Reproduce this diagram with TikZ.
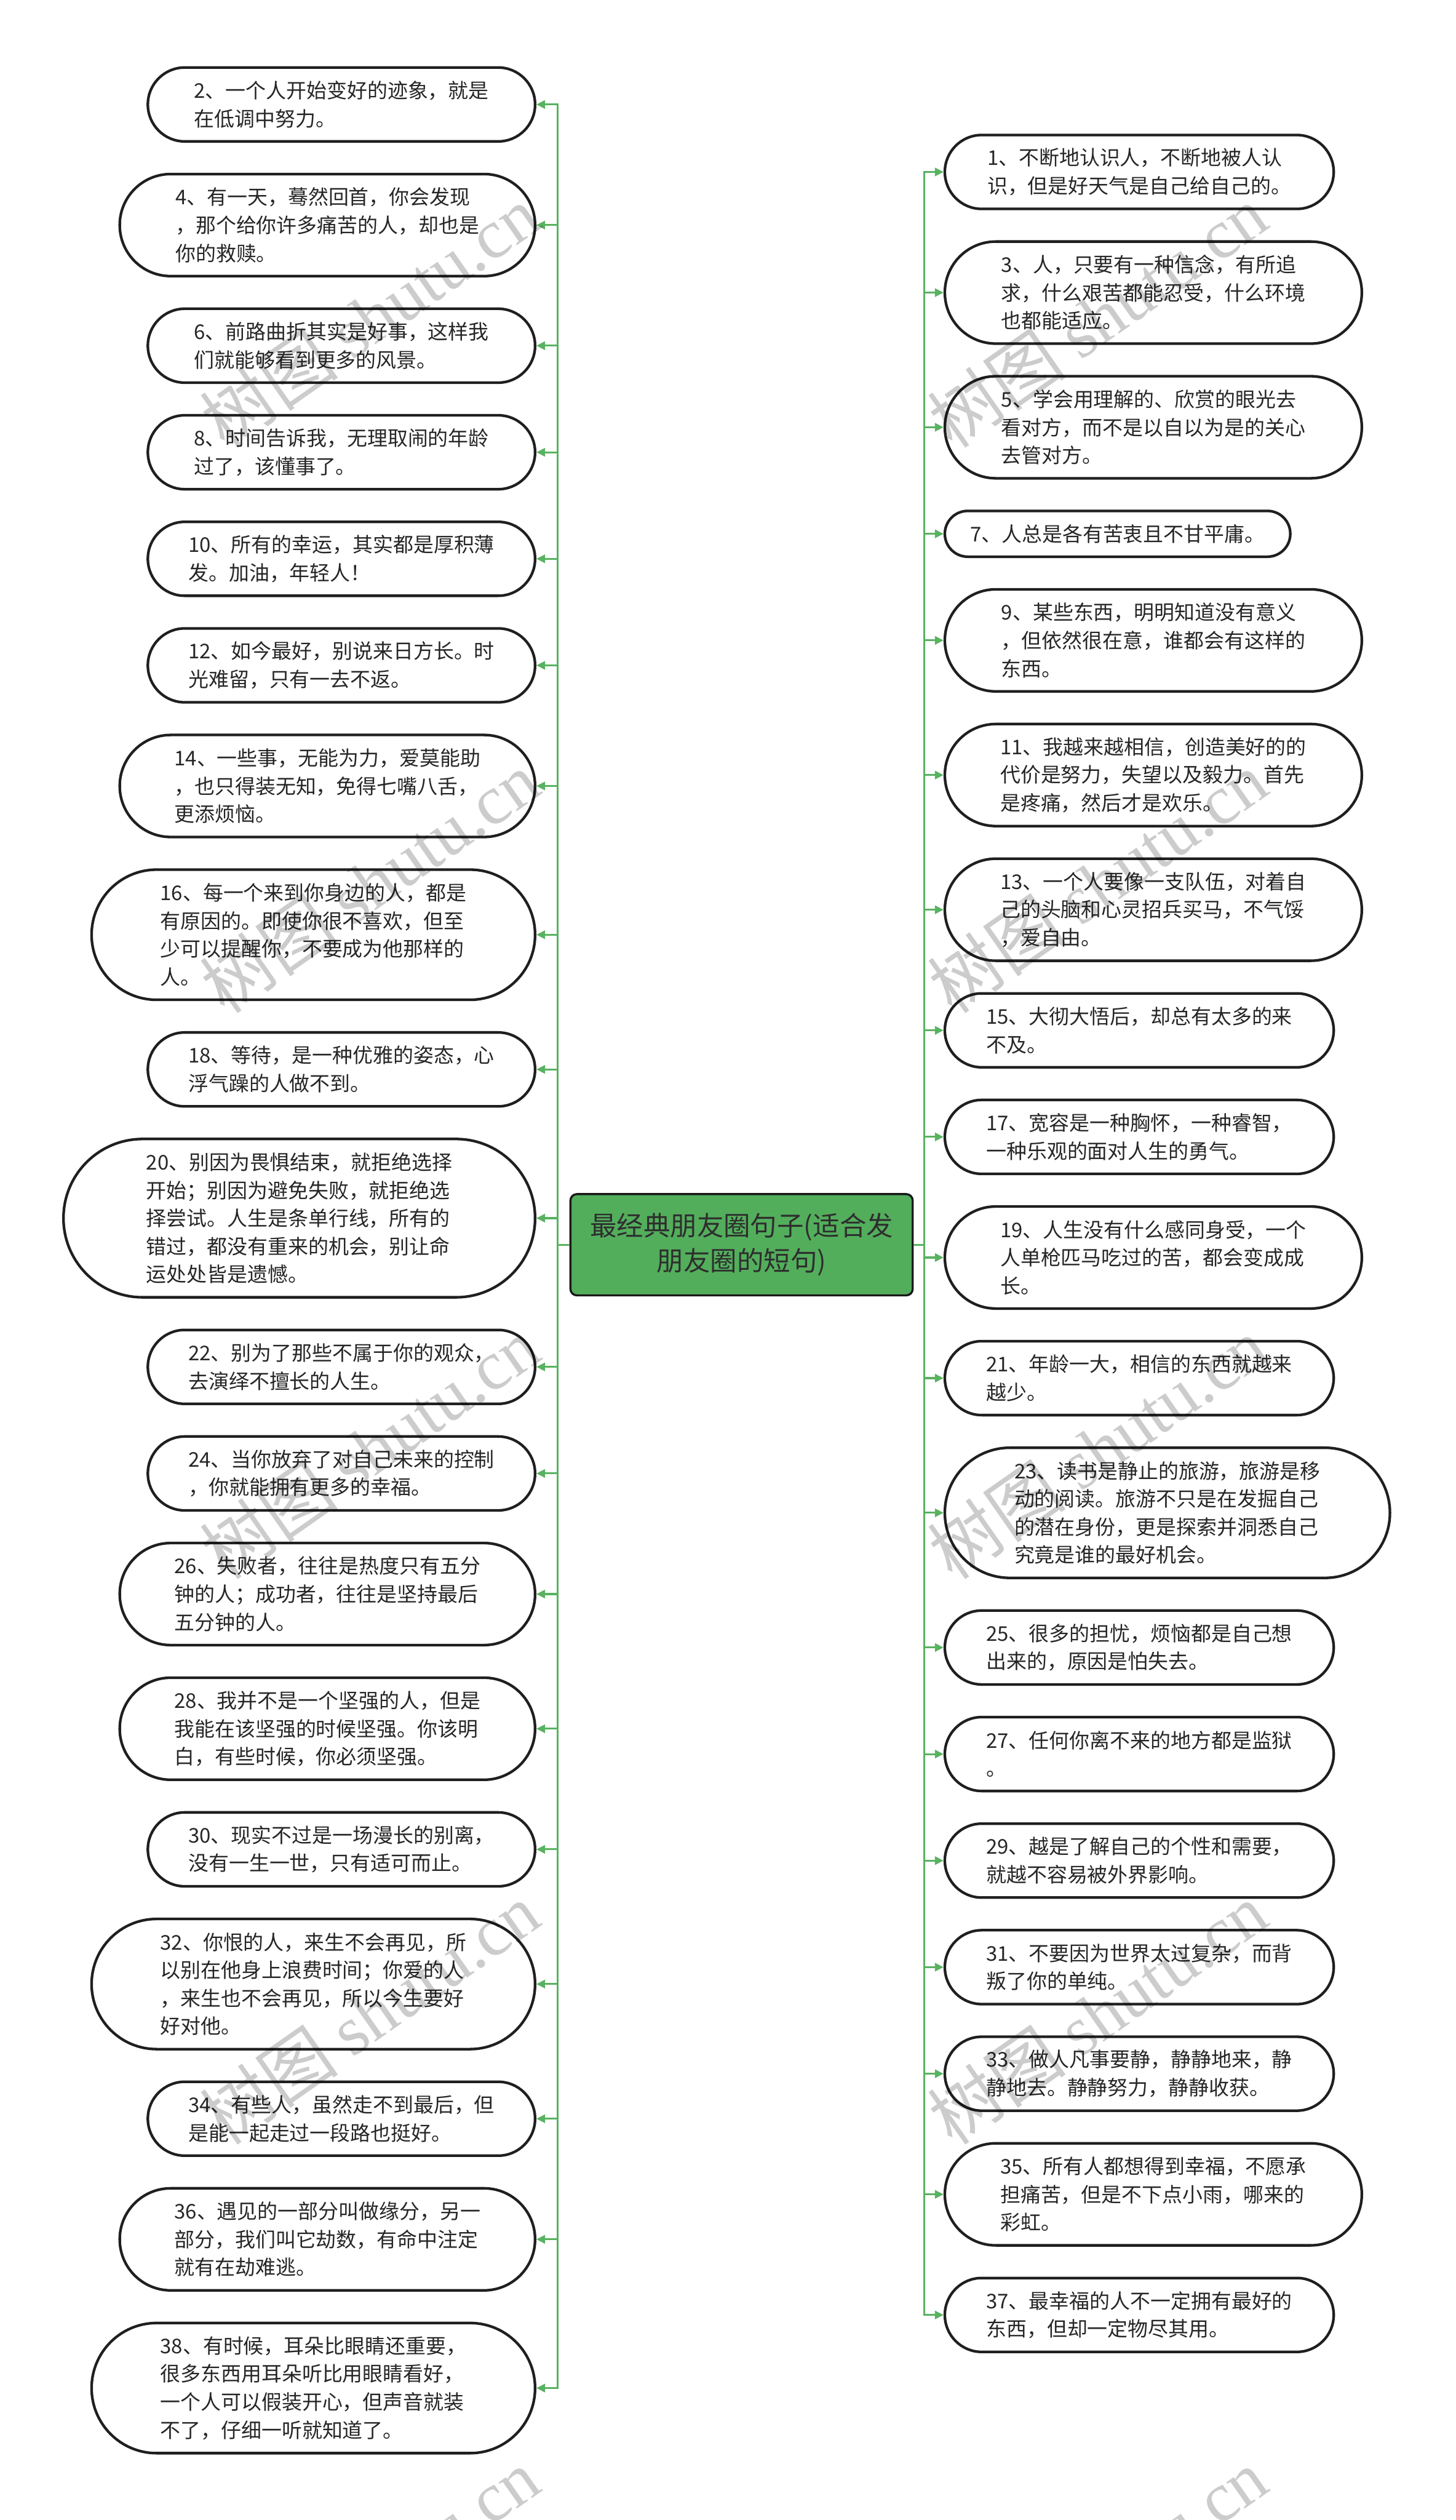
\documentclass[tikz,border=0pt]{standalone}
\usepackage{fontspec}
\setmainfont{Noto Sans CJK SC}
\newfontfamily\wmserif{Liberation Serif}
\usetikzlibrary{arrows.meta}
\definecolor{lineg}{RGB}{88,178,96}
\definecolor{rootg}{RGB}{83,174,92}
\definecolor{txt}{RGB}{38,38,38}
\newcommand\leafleft[5]{%
  \pgfmathsetlengthmacro\leafW{#4*0.03cm}%
  \pgfmathsetlengthmacro\leafH{#3*0.03cm}%
  \pgfmathsetlengthmacro\leafR{#3*0.015cm-0.01pt}%
  \pgfmathsetmacro\leafX{333-#4/2}%
  \node[leaf, minimum width=\leafW, minimum height=\leafH, rounded corners=\leafR] (#1) at (\leafX,#2) {#5};}
\newcommand\leafright[5]{%
  \pgfmathsetlengthmacro\leafW{#4*0.03cm}%
  \pgfmathsetlengthmacro\leafH{#3*0.03cm}%
  \pgfmathsetlengthmacro\leafR{#3*0.015cm-0.01pt}%
  \pgfmathsetmacro\leafX{588+#4/2}%
  \node[leaf, minimum width=\leafW, minimum height=\leafH, rounded corners=\leafR] (#1) at (\leafX,#2) {#5};}
\begin{document}
\begin{tikzpicture}[x=0.03cm,y=-0.03cm,
  leaf/.style={draw=black!88, line width=1.4pt, fill=white, align=left, text=txt, inner sep=0pt,
    font=\fontsize{10.76pt}{14.9pt}\selectfont},
  root/.style={draw=black!90, line width=1.1pt, fill=rootg, align=center, text=black!82, inner sep=0pt,
    rounded corners=0.12cm, font=\fontsize{14.2pt}{18.7pt}\selectfont},
  conn/.style={draw=lineg, line width=1pt, -{Triangle[length=4.6pt,width=4.4pt]}},
  wm/.style={rotate=35, text=black, opacity=0.2, font=\fontsize{37pt}{40pt}\selectfont}]
\useasboundingbox (0,0) rectangle (906,1568);
\fill[white] (0,0) rectangle (906,1568);

% center node
\node[root, minimum width=213*0.03cm, minimum height=63*0.03cm] (c) at (461.5,774.5) {最经典朋友圈句子(适合发\\朋友圈的短句)};
\coordinate (tl) at (347,774.5);
\coordinate (tr) at (575,774.5);

% left leaves
\leafleft{l2}{65}{46}{241}{2、一个人开始变好的迹象，就是\\在低调中努力。}
\leafleft{l4}{140.05}{63.5}{258.5}{4、有一天，蓦然回首，你会发现\\，那个给你许多痛苦的人，却也是\\你的救赎。}
\leafleft{l6}{215.1}{46}{241}{6、前路曲折其实是好事，这样我\\们就能够看到更多的风景。}
\leafleft{l8}{281.4}{46}{241}{8、时间告诉我，无理取闹的年龄\\过了，该懂事了。}
\leafleft{l10}{347.7}{46}{241}{10、所有的幸运，其实都是厚积薄\\发。加油，年轻人！}
\leafleft{l12}{414.0}{46}{241}{12、如今最好，别说来日方长。时\\光难留，只有一去不返。}
\leafleft{l14}{489.05}{63.5}{258.5}{14、一些事，无能为力，爱莫能助\\，也只得装无知，免得七嘴八舌，\\更添烦恼。}
\leafleft{l16}{581.6}{81}{276}{16、每一个来到你身边的人，都是\\有原因的。即使你很不喜欢，但至\\少可以提醒你，不要成为他那样的\\人。}
\leafleft{l18}{665.4}{46}{241}{18、等待，是一种优雅的姿态，心\\浮气躁的人做不到。}
\leafleft{l20}{757.95}{98.5}{293.5}{20、别因为畏惧结束，就拒绝选择\\开始；别因为避免失败，就拒绝选\\择尝试。人生是条单行线，所有的\\错过，都没有重来的机会，别让命\\运处处皆是遗憾。}
\leafleft{l22}{850.5}{46}{241}{22、别为了那些不属于你的观众，\\去演绎不擅长的人生。}
\leafleft{l24}{916.8}{46}{241}{24、当你放弃了对自己未来的控制\\，你就能拥有更多的幸福。}
\leafleft{l26}{991.85}{63.5}{258.5}{26、失败者，往往是热度只有五分\\钟的人；成功者，往往是坚持最后\\五分钟的人。}
\leafleft{l28}{1075.65}{63.5}{258.5}{28、我并不是一个坚强的人，但是\\我能在该坚强的时候坚强。你该明\\白，有些时候，你必须坚强。}
\leafleft{l30}{1150.7}{46}{241}{30、现实不过是一场漫长的别离，\\没有一生一世，只有适可而止。}
\leafleft{l32}{1234.5}{81}{276}{32、你恨的人，来生不会再见，所\\以别在他身上浪费时间；你爱的人\\，来生也不会再见，所以今生要好\\好对他。}
\leafleft{l34}{1318.3}{46}{241}{34、有些人，虽然走不到最后，但\\是能一起走过一段路也挺好。}
\leafleft{l36}{1393.35}{63.5}{258.5}{36、遇见的一部分叫做缘分，另一\\部分，我们叫它劫数，有命中注定\\就有在劫难逃。}
\leafleft{l38}{1485.9}{81}{276}{38、有时候，耳朵比眼睛还重要，\\很多东西用耳朵听比用眼睛看好，\\一个人可以假装开心，但声音就装\\不了，仔细一听就知道了。}

% right leaves
\leafright{r1}{107}{46}{242}{1、不断地认识人，不断地被人认\\识，但是好天气是自己给自己的。}
\leafright{r3}{182.05}{63.5}{259.5}{3、人，只要有一种信念，有所追\\求，什么艰苦都能忍受，什么环境\\也都能适应。}
\leafright{r5}{265.85}{63.5}{259.5}{5、学会用理解的、欣赏的眼光去\\看对方，而不是以自以为是的关心\\去管对方。}
\leafright{r7}{332.15}{28.5}{215}{7、人总是各有苦衷且不甘平庸。}
\leafright{r9}{398.45}{63.5}{259.5}{9、某些东西，明明知道没有意义\\，但依然很在意，谁都会有这样的\\东西。}
\leafright{r11}{482.25}{63.5}{259.5}{11、我越来越相信，创造美好的的\\代价是努力，失望以及毅力。首先\\是疼痛，然后才是欢乐。}
\leafright{r13}{566.05}{63.5}{259.5}{13、一个人要像一支队伍，对着自\\己的头脑和心灵招兵买马，不气馁\\，爱自由。}
\leafright{r15}{641.1}{46}{242}{15、大彻大悟后，却总有太多的来\\不及。}
\leafright{r17}{707.4}{46}{242}{17、宽容是一种胸怀，一种睿智，\\一种乐观的面对人生的勇气。}
\leafright{r19}{782.45}{63.5}{259.5}{19、人生没有什么感同身受，一个\\人单枪匹马吃过的苦，都会变成成\\长。}
\leafright{r21}{857.5}{46}{242}{21、年龄一大，相信的东西就越来\\越少。}
\leafright{r23}{941.3}{81}{277}{23、读书是静止的旅游，旅游是移\\动的阅读。旅游不只是在发掘自己\\的潜在身份，更是探索并洞悉自己\\究竟是谁的最好机会。}
\leafright{r25}{1025.1}{46}{242}{25、很多的担忧，烦恼都是自己想\\出来的，原因是怕失去。}
\leafright{r27}{1091.4}{46}{242}{27、任何你离不来的地方都是监狱\\。}
\leafright{r29}{1157.7}{46}{242}{29、越是了解自己的个性和需要，\\就越不容易被外界影响。}
\leafright{r31}{1224.0}{46}{242}{31、不要因为世界太过复杂，而背\\叛了你的单纯。}
\leafright{r33}{1290.3}{46}{242}{33、做人凡事要静，静静地来，静\\静地去。静静努力，静静收获。}
\leafright{r35}{1365.35}{63.5}{259.5}{35、所有人都想得到幸福，不愿承\\担痛苦，但是不下点小雨，哪来的\\彩虹。}
\leafright{r37}{1440.4}{46}{242}{37、最幸福的人不一定拥有最好的\\东西，但却一定物尽其用。}

% connectors
\foreach \n in {l2,l4,l6,l8,l10,l12,l14,l16,l18,l20,l22,l24,l26,l28,l30,l32,l34,l36,l38}
  \draw[conn] (c.west) -- (tl) |- (\n.east);
\foreach \n in {r1,r3,r5,r7,r9,r11,r13,r15,r17,r19,r21,r23,r25,r27,r29,r31,r33,r35,r37}
  \draw[conn] (c.east) -- (tr) |- (\n.west);

% watermarks
\foreach \k [count=\i] in {197,549,901,1253,1605}{
  \node[wm] (wl\i) at (230,\k) {树图 {\wmserif shutu.cn}};
  \node[wm] (wr\i) at (683,\k) {树图 {\wmserif shutu.cn}};
}
\end{tikzpicture}
\end{document}
